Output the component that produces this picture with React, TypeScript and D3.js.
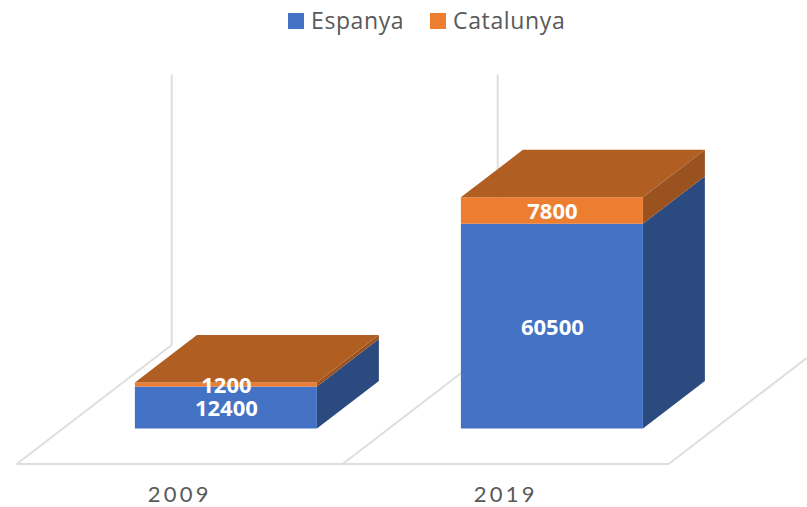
import React from 'react';
import * as d3 from 'd3';

const years = ['2009', '2019'];
const espanya = [12400, 60500];
const catalunya = [1200, 7800];
const seriesNames = ['Espanya', 'Catalunya'];

const width = 807, height = 507;

const colors = {
  front: ['#4472C4', '#ED7D31'],
  side: ['#2A4A80', '#9A521F'],
  top: '#B05E22',
  grid: '#DEDEDE',
  text: '#595959',
};

// floor of the 3d box, front edge on screen
const floor = { left: 16.7, right: 668.7, front: 464, depthX: 155, depthY: -119 };

const x = d3.scaleBand().domain(years).range([floor.left, floor.right]).paddingInner(0).paddingOuter(0);
const y = d3.scaleLinear().domain([0, 80000]).range([0, 270.8]);
// depth goes from 0 (front) to 1 (back wall)
const zX = d3.scaleLinear().domain([0, 1]).range([0, floor.depthX]);
const zY = d3.scaleLinear().domain([0, 1]).range([0, floor.depthY]);

const barFront = 0.298, barBack = 0.698;
const barWidth = 182;

const project = (px: number, value: number, z: number): [number, number] => [
  px + zX(z),
  floor.front + zY(z) - y(value),
];

const poly = (pts: [number, number][]) => {
  const p = d3.path();
  pts.forEach((pt, i) => (i === 0 ? p.moveTo(pt[0], pt[1]) : p.lineTo(pt[0], pt[1])));
  p.closePath();
  return p.toString();
};

const Bar = ({ year, i }: { year: string; i: number }) => {
  const band = x(year) as number;
  const x0 = band + (x.bandwidth() - barWidth) / 2;
  const x1 = x0 + barWidth;
  const stacks = [
    { start: 0, end: espanya[i], idx: 0 },
    { start: espanya[i], end: espanya[i] + catalunya[i], idx: 1 },
  ];
  const total = espanya[i] + catalunya[i];
  return (
    <g>
      {stacks.map(s => (
        <g key={s.idx}>
          <path
            d={poly([
              project(x1, s.start, barFront),
              project(x1, s.start, barBack),
              project(x1, s.end, barBack),
              project(x1, s.end, barFront),
            ])}
            fill={colors.side[s.idx]}
          />
          <path
            d={poly([
              project(x0, s.start, barFront),
              project(x1, s.start, barFront),
              project(x1, s.end, barFront),
              project(x0, s.end, barFront),
            ])}
            fill={colors.front[s.idx]}
          />
        </g>
      ))}
      <path
        d={poly([
          project(x0, total, barFront),
          project(x1, total, barFront),
          project(x1, total, barBack),
          project(x0, total, barBack),
        ])}
        fill={colors.top}
      />
    </g>
  );
};

const Labels = ({ year, i }: { year: string; i: number }) => {
  const band = x(year) as number;
  const cx = band + x.bandwidth() / 2 + zX(barFront);
  const values = [
    { v: espanya[i], mid: espanya[i] / 2 },
    { v: catalunya[i], mid: espanya[i] + catalunya[i] / 2 },
  ];
  return (
    <g>
      {values.map(d => (
        <text
          key={d.v}
          x={cx + 0.5}
          y={project(0, d.mid, barFront)[1] + 1}
          dy="0.36em"
          textAnchor="middle"
          fontFamily="'Open Sans', sans-serif"
          fontWeight={700}
          fontSize={22}
          fill="#fff"
        >
          {d.v}
        </text>
      ))}
    </g>
  );
};

const App = () => {
  const edges = [...years.map(yr => x(yr) as number), floor.right];
  return (
    <svg width={width} height={height} style={{ position: 'absolute', left: 0, top: 0, background: '#fff' }}>
      {/* floor and back wall */}
      <g stroke={colors.grid} strokeWidth={2} fill="none">
        <line x1={floor.left} x2={floor.right} y1={floor.front} y2={floor.front} />
        {edges.map((ex, i) => {
          const back = project(ex, 0, 1);
          const clipped = i === edges.length - 1;
          const end = clipped ? project(ex, 0, (width - ex) / floor.depthX) : back;
          return (
            <g key={ex}>
              <line x1={ex} y1={floor.front} x2={end[0]} y2={end[1]} />
              {!clipped && (
                <line x1={back[0]} y1={back[1]} x2={back[0]} y2={project(ex, 80000, 1)[1]} />
              )}
            </g>
          );
        })}
      </g>

      {years.map((yr, i) => <Bar key={yr} year={yr} i={i} />)}
      {years.map((yr, i) => <Labels key={yr} year={yr} i={i} />)}

      {/* category axis */}
      {years.map(yr => (
        <text
          key={yr}
          x={(x(yr) as number) + x.bandwidth() / 2}
          y={502.2}
          textAnchor="middle"
          fontFamily="Lato, sans-serif"
          fontSize={22}
          letterSpacing={3.2}
          fill={colors.text}
        >
          {yr}
        </text>
      ))}

      {/* legend */}
      <g fontFamily="'Open Sans', sans-serif" fontSize={23} fill={colors.text}>
        <rect x={288} y={13} width={16} height={16} fill={colors.front[0]} />
        <text x={311} y={28.5} letterSpacing={0.6}>{seriesNames[0]}</text>
        <rect x={430} y={13} width={16} height={16} fill={colors.front[1]} />
        <text x={453} y={28.5} letterSpacing={0.65}>{seriesNames[1]}</text>
      </g>
    </svg>
  );
};

export default App;
